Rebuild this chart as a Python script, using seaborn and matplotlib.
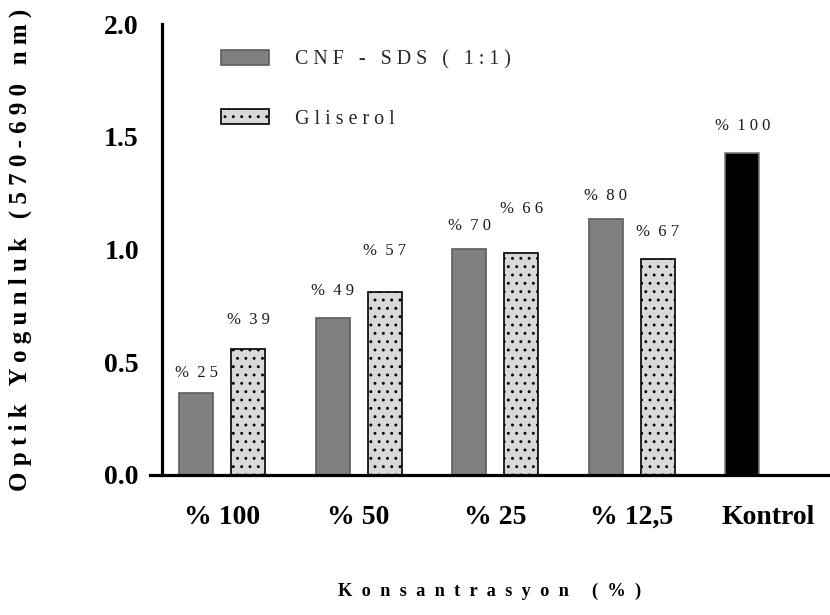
import numpy as np
import pandas as pd
import matplotlib
matplotlib.use("Agg")
import matplotlib.pyplot as plt
from matplotlib.patches import Patch
import seaborn as sns

# Optical density per concentration
groups = ["% 100", "% 50", "% 25", "% 12,5", "Kontrol"]
series_names = ["CNF - SDS ( 1:1)", "Gliserol"]
cnf_sds = [0.365, 0.695, 1.001, 1.134, 1.427]
gliserol = [0.557, 0.810, 0.983, 0.957, np.nan]
cnf_pct = ["% 25", "% 49", "% 70", "% 80", "% 100"]
gli_pct = ["% 39", "% 57", "% 66", "% 67", ""]
y_ticks = [0.0, 0.5, 1.0, 1.5, 2.0]

# vertical gap (pt) between bar top and its percentage label
cnf_lift = [11, 17, 14, 14, 17]
gli_lift = [18, 27, 29, 17, 0]

SERIF = ["Liberation Serif", "DejaVu Serif"]


def spaced(text, gap=" "):
    """Letter-spaced text, joining every character with a gap."""
    return gap.join(text)


def pct_label(text):
    """'% 25' -> '%  2 5' with wide tracking on the digits."""
    sign, num = text.split(" ", 1)
    return sign + "  " + spaced(num)


sns.set_theme(style="white")
plt.rcParams["font.family"] = SERIF
plt.rcParams["hatch.color"] = "black"
plt.rcParams["hatch.linewidth"] = 0.9

W, H = 830, 615
fig = plt.figure(figsize=(W / 100, H / 100), dpi=100)
ax = fig.add_axes([150 / W, 1 - 475 / H, 680 / W, (475 - 24) / H])

df = pd.DataFrame({
    "Konsantrasyon": groups * 2,
    "Seri": [series_names[0]] * len(groups) + [series_names[1]] * len(groups),
    "OD": cnf_sds + gliserol,
})

sns.barplot(
    data=df, x="Konsantrasyon", y="OD", hue="Seri",
    order=groups, hue_order=series_names,
    palette=["#808080", "#d9d9d9"], width=0.76, gap=0.345,
    errorbar=None, legend=False, ax=ax,
)

cnf_bars, gli_bars = [], []
for p in ax.patches:
    h = p.get_height()
    if not np.isfinite(h) or h == 0:
        p.set_visible(False)
        continue
    cx = p.get_x() + p.get_width() / 2
    if cx - round(cx) < 0:
        cnf_bars.append(p)
    else:
        gli_bars.append(p)
cnf_bars.sort(key=lambda p: p.get_x())
gli_bars.sort(key=lambda p: p.get_x())

for i, p in enumerate(cnf_bars):
    if groups[i] == "Kontrol":
        p.set_facecolor("black")
        p.set_edgecolor("#7a7a7a")
    else:
        p.set_facecolor("#808080")
        p.set_edgecolor("#5e5e5e")
    p.set_linewidth(1.2)
for p in gli_bars:
    p.set_facecolor("#d9d9d9")
    p.set_edgecolor("black")
    p.set_hatch("..")
    p.set_linewidth(1.2)

label_font = dict(family=SERIF, size=12, color="#1a1a1a")
for p, txt, lift in zip(cnf_bars, cnf_pct, cnf_lift):
    ax.annotate(pct_label(txt), (p.get_x() + p.get_width() / 2, p.get_height()),
                xytext=(0, lift), textcoords="offset points",
                ha="center", va="baseline", **label_font)
for p, txt, lift in zip(gli_bars, gli_pct, gli_lift):
    if txt:
        ax.annotate(pct_label(txt), (p.get_x() + p.get_width() / 2, p.get_height()),
                    xytext=(0, lift), textcoords="offset points",
                    ha="center", va="baseline", **label_font)

# axes frame
ax.set_xlim(-0.527, 4.451)
ax.set_ylim(0, 2.0)
for side in ("top", "right"):
    ax.spines[side].set_visible(False)
for side in ("left", "bottom"):
    ax.spines[side].set_color("black")
    ax.spines[side].set_linewidth(2.3)
ax.spines["left"].set_position(("data", -0.439))

ax.set_yticks(y_ticks)
ax.set_yticklabels([f"{v:.1f}" for v in y_ticks])
ax.set_xticks(range(len(groups)))
ax.set_xticklabels(groups)
ax.tick_params(axis="both", which="major", direction="out", length=8.6,
               width=2.3, color="black", labelcolor="black", labelsize=20)
ax.tick_params(axis="y", pad=8)
ax.tick_params(axis="x", pad=13)
for lab in ax.get_xticklabels() + ax.get_yticklabels():
    lab.set_fontweight("bold")
    lab.set_family(SERIF)

ax.set_xlabel(spaced("Konsantrasyon (%)", "  "), fontsize=13.2,
              fontweight="bold", family=SERIF, color="black")
ax.set_ylabel(spaced("Optik Yogunluk (570-690 nm)"), fontsize=18,
              fontweight="bold", family=SERIF, color="black")
ax.xaxis.set_label_coords(0.5, -0.238)
ax.yaxis.set_label_coords(-0.1735, 0.499)

handles = [
    Patch(facecolor="#808080", edgecolor="#5e5e5e", linewidth=1.2),
    Patch(facecolor="#d9d9d9", edgecolor="black", hatch="..", linewidth=1.2),
]
ax.legend(handles, [spaced(s) for s in series_names],
          loc="upper left", bbox_to_anchor=(221 / W, 1 - 50 / H),
          bbox_transform=fig.transFigure, frameon=False,
          prop=dict(family=SERIF, size=14.4),
          handlelength=2.4, handleheight=0.75, handletextpad=1.3,
          labelspacing=2.0, borderpad=0, borderaxespad=0)

fig.savefig("out.png", dpi=100)
